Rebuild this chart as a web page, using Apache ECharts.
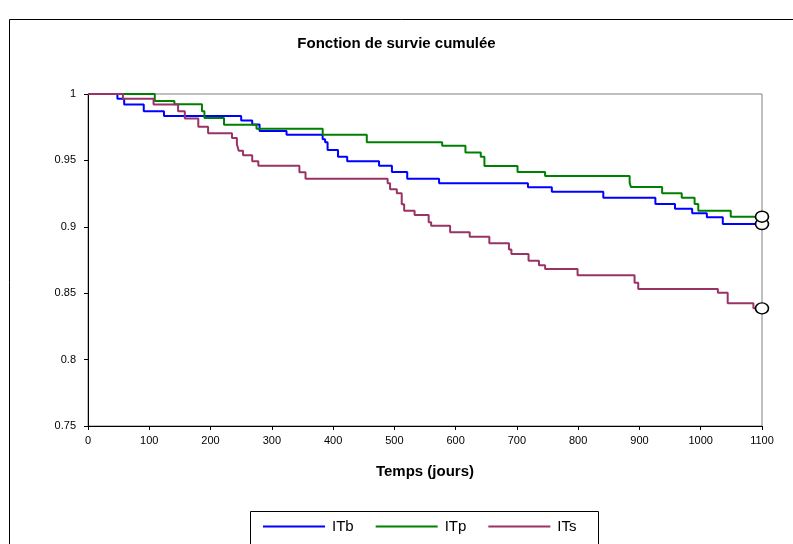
<!DOCTYPE html>
<html>
<head>
<meta charset="utf-8">
<script src="https://cdn.jsdelivr.net/npm/echarts@6/dist/echarts.min.js"></script>
<style>html,body{margin:0;padding:0;background:#fff;}#c{width:793px;height:544px;}</style>
</head>
<body>
<div id="c"></div>
<script>
var seriesNames = ['ITb', 'ITp', 'ITs'];
var xTicks = [0, 1100, 100];
var yTicks = [0.75, 1, 0.05];

var itbTimes = [0, 48, 59, 91, 124, 250, 268, 280, 324, 383, 387, 391, 408, 423, 475, 496, 521, 573, 718, 757, 841, 926, 958, 986, 1010, 1036, 1100];
var itbSurv  = [1, 0.9965, 0.992, 0.987, 0.9835, 0.980, 0.977, 0.9722, 0.9693, 0.966, 0.9636, 0.9578, 0.9528, 0.9493, 0.946, 0.9413, 0.9362, 0.9328, 0.9297, 0.9264, 0.9219, 0.9172, 0.9136, 0.9102, 0.9071, 0.9021, 0.9021];

var itpTimes = [0, 109, 141, 186, 190, 222, 275, 383, 455, 578, 616, 641, 647, 701, 746, 884, 886, 937, 969, 990, 996, 1049, 1100];
var itpSurv  = [1, 0.9947, 0.9922, 0.987, 0.9819, 0.9769, 0.9739, 0.9694, 0.9636, 0.961, 0.956, 0.9528, 0.9458, 0.9413, 0.9383, 0.9332, 0.930, 0.9252, 0.9219, 0.9172, 0.9121, 0.9076, 0.9076];

var itsTimes = [0, 57, 107, 147, 158, 180, 196, 235, 243, 246, 253, 268, 278, 345, 355, 489, 493, 504, 512, 516, 533, 556, 560, 591, 623, 655, 687, 691, 719, 736, 746, 799, 892, 898, 1028, 1044, 1086, 1100];
var itsSurv  = [1, 0.9965, 0.992, 0.987, 0.9815, 0.9753, 0.9704, 0.9668, 0.9622, 0.9573, 0.9538, 0.9494, 0.946, 0.941, 0.9362, 0.9328, 0.9282, 0.9252, 0.9169, 0.9121, 0.9088, 0.9034, 0.9008, 0.8959, 0.8925, 0.8876, 0.883, 0.8795, 0.8745, 0.871, 0.8682, 0.8635, 0.8579, 0.8532, 0.8504, 0.8424, 0.8386, 0.8386];

var colors = ['#0000FF', '#008000', '#993366'];

function pairs(t, s) { return t.map(function (v, i) { return [v, s[i]]; }); }
var allT = [itbTimes, itpTimes, itsTimes];
var allS = [itbSurv, itpSurv, itsSurv];

var font = 'Liberation Sans, Arial, sans-serif';
var series = seriesNames.map(function (n, i) {
  return {
    name: n, type: 'line', step: 'end', showSymbol: false, symbol: 'none',
    data: pairs(allT[i], allS[i]),
    lineStyle: { color: colors[i], width: 2 }, itemStyle: { color: colors[i] },
    z: 3 + i
  };
});
var cens = allT.map(function (t, i) { return [t[t.length - 1], allS[i][allS[i].length - 1]]; });
series.push({
  name: 'censure', type: 'scatter', data: cens, symbol: 'circle', symbolSize: [13, 11],
  itemStyle: { color: '#ffffff', borderColor: '#000000', borderWidth: 1.5, opacity: 1 }, z: 10
});

var chart = echarts.init(document.getElementById('c'), null, { renderer: 'canvas' });
chart.setOption({
  animation: false,
  backgroundColor: '#ffffff',
  title: {
    text: 'Fonction de survie cumulée', left: 'center', top: 31,
    textStyle: { fontFamily: font, fontSize: 15, fontWeight: 'bold', color: '#000' }
  },
  graphic: [{
    type: 'rect', shape: { x: 9.5, y: 19.5, width: 800, height: 600 },
    style: { fill: 'none', stroke: '#000', lineWidth: 1 }, silent: true, z: -1
  }, {
    type: 'rect', shape: { x: 250.5, y: 511.5, width: 348, height: 60 },
    style: { fill: 'none', stroke: '#000', lineWidth: 1 }, silent: true
  }],
  legend: {
    data: seriesNames, left: 258, top: 514, itemWidth: 62, itemHeight: 2, itemGap: 22,
    icon: 'rect',
    textStyle: { fontFamily: font, fontSize: 15, color: '#000', padding: [0, 0, 0, 2] }
  },
  grid: {
    left: 88, top: 94, right: 31, bottom: 118, show: true,
    borderColor: '#808080', borderWidth: 1, backgroundColor: '#ffffff'
  },
  xAxis: {
    type: 'value', min: xTicks[0], max: xTicks[1], interval: xTicks[2],
    name: 'Temps (jours)', nameLocation: 'middle', nameGap: 38,
    nameTextStyle: { fontFamily: font, fontSize: 15, fontWeight: 'bold', color: '#000' },
    axisLine: { show: true, lineStyle: { color: '#000', width: 1 } },
    axisTick: { show: true, length: 4, lineStyle: { color: '#000' } },
    axisLabel: { fontFamily: font, fontSize: 11, color: '#000', margin: 9,
      formatter: function (v) { return String(v); } },
    splitLine: { show: false }
  },
  yAxis: {
    type: 'value', min: yTicks[0], max: yTicks[1], interval: yTicks[2],
    axisLine: { show: true, lineStyle: { color: '#000', width: 1 } },
    axisTick: { show: true, length: 4, lineStyle: { color: '#000' } },
    axisLabel: { fontFamily: font, fontSize: 11, color: '#000', margin: 12 },
    splitLine: { show: false }
  },
  series: series
});
</script>
</body>
</html>
